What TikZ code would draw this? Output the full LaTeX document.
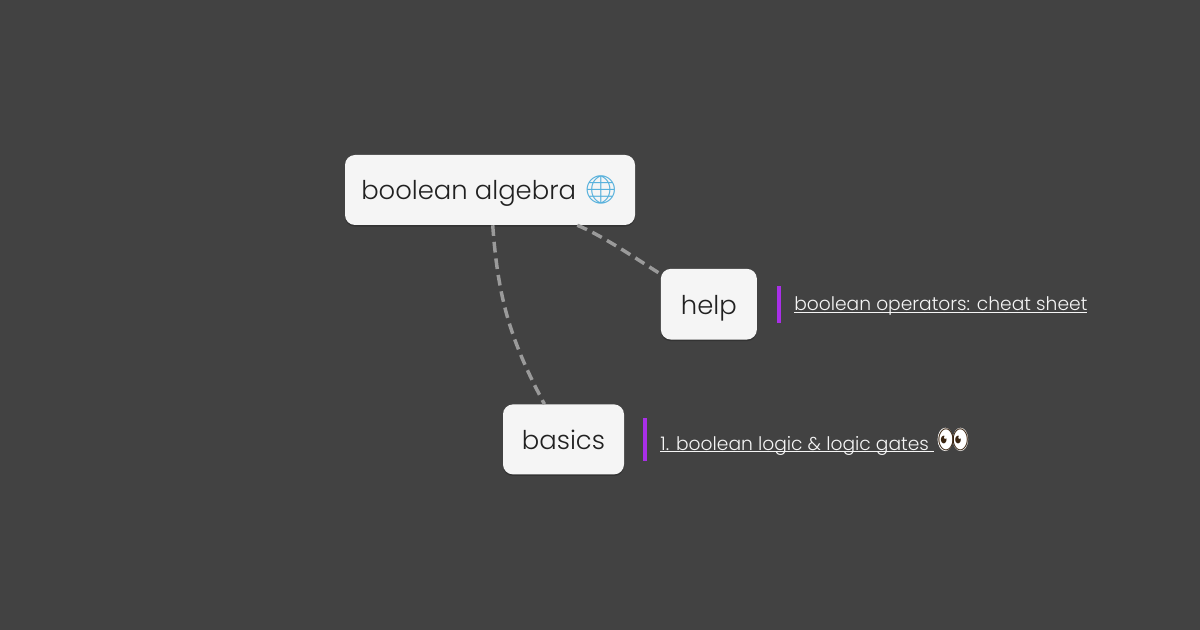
\documentclass[tikz,border=0pt]{standalone}
\usepackage{fontspec}
\setmainfont{Poppins}[UprightFont=* Light]
\newfontfamily\emojifont{Noto Emoji}
\usetikzlibrary{positioning,shadows,shapes.geometric}
\newcommand{\linktext}[1]{\setbox0\hbox{#1}\rlap{\rule[-1.6pt]{\wd0}{0.8pt}}\box0}
\definecolor{canvas}{HTML}{424242}
\definecolor{card}{HTML}{F5F5F5}
\definecolor{ink}{HTML}{212121}
\definecolor{linkbar}{HTML}{A92FE8}
\definecolor{branch}{HTML}{9A9A9A}
\definecolor{globe}{HTML}{55B0DC}
\definecolor{pupil}{HTML}{3A2410}
\tikzset{
	topic/.style={fill=card, text=ink, rounded corners=7.5pt, inner sep=0pt, minimum height=52.5pt, text height=20pt, text depth=5pt, font=\fontsize{19.4}{24}\selectfont, drop shadow={shadow xshift=0pt, shadow yshift=-1.2pt, opacity=0.22, fill=black}},
	link/.style={text=card, inner sep=0pt, text height=12pt, text depth=2pt, font=\fontsize{14}{17}\selectfont},
	linkbar/.style={fill=linkbar, inner sep=0pt, minimum width=3pt},
	connector/.style={draw=branch, line width=2.6pt, dash pattern=on 8pt off 4.5pt},
	eyeball/.style={ellipse, fill=white, inner sep=0pt, minimum width=11.5pt, minimum height=17.5pt},
}
\begin{document}
\begin{tikzpicture}[x=0.75pt, y=-0.75pt]
	\fill[canvas] (0,0) rectangle (1200,630);

	\node[topic, minimum width=217.5pt] (root) at (490,190) {boolean algebra {\emojifont\fontsize{21}{24}\selectfont\textcolor{globe}{🌐}}};
	\node[topic, minimum width=72pt, minimum height=53pt, below right=32.5pt and 19pt of root] (help) {help};
	\node[topic, minimum width=90.75pt, below left=48.25pt and 27.25pt of help] (basics) {basics};

	\node[linkbar, minimum height=27.75pt, right=14.5pt of help] (helpbar) {};
	\node[link, right=9.75pt of helpbar] (helplink) {\linktext{boolean operators: cheat sheet}};
	\node[linkbar, minimum height=32.25pt, right=14pt of basics] (basicsbar) {};
	\node[link, right=9.5pt of basicsbar, yshift=-3.2pt] (basicslink) {\linktext{1. boolean logic \& logic gates\ }};

	\node[eyeball, right=2.25pt of basicslink, yshift=3.2pt] (lefteye) {};
	\node[eyeball, right=-0.5pt of lefteye] (righteye) {};
	\node[text=pupil, inner sep=0pt, font=\emojifont\fontsize{19}{19}\selectfont] (eyes) at (lefteye.east) {👀};

	\draw[connector] (root) to[out=-22, in=148, looseness=0.7] (help);
	\draw[connector] (root) to[bend right=12] (basics);
\end{tikzpicture}
\end{document}
